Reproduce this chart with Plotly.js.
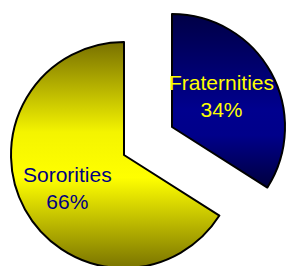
<!DOCTYPE html>
<html>
<head>
<meta charset="utf-8">
<script src="https://cdn.plot.ly/plotly-3.0.1.min.js"></script>
<style>
html,body{margin:0;padding:0;overflow:hidden;background:#fff;}
#chart{width:287px;height:270px;}
</style>
</head>
<body>
<div id="chart"></div>
<script>
const labels = ['Fraternities', 'Sororities'];
const values = [34, 66];
const sliceColors = ['#000080', '#e6e600'];
const textColors = ['#ffff00', '#000080'];
const gradients = [
  [[0, '#000046'], [0.55, '#00008e'], [0.7, '#00008a'], [1, '#00003e']],
  [[0, '#787000'], [0.4, '#f4f400'], [0.6, '#ffff00'], [1, '#7a7400']]
];
// pie placement (domains) for each slice's own trace
const domains = [
  {x: [0.2056, 0.9930], y: [0.1111, 0.9481]},
  {x: [0.0383, 0.8258], y: [0.0074, 0.8444]}
];
// label anchor positions (paper fractions)
const labelPos = [
  {x: 0.7735, y: 0.646},
  {x: 0.2369, y: 0.305}
];

const total = values.reduce((a, b) => a + b, 0);

const traces = labels.map((_, k) => ({
  type: 'pie',
  labels: labels,
  values: values,
  sort: false,
  direction: 'clockwise',
  rotation: 0,
  domain: domains[k],
  marker: {
    colors: labels.map((_, i) => i === k ? sliceColors[i] : 'rgba(0,0,0,0)'),
    line: {color: '#000', width: labels.map((_, i) => i === k ? 2 : 0)}
  },
  textinfo: 'none',
  hoverinfo: 'none',
  showlegend: false
}));

const annotations = labels.map((lab, i) => ({
  xref: 'paper', yref: 'paper',
  x: labelPos[i].x, y: labelPos[i].y,
  xanchor: 'center', yanchor: 'middle',
  showarrow: false,
  text: lab + '<br>' + Math.round(values[i] / total * 100) + '%',
  font: {family: 'Arial, Liberation Sans, sans-serif', size: 21, color: textColors[i]}
}));

Plotly.newPlot('chart', traces, {
  width: 287, height: 270,
  margin: {l: 0, r: 0, t: 0, b: 0},
  paper_bgcolor: '#fff',
  showlegend: false,
  annotations: annotations
}, {staticPlot: true}).then(gd => {
  const svgNS = 'http://www.w3.org/2000/svg';
  const svg = gd.querySelector('svg.main-svg');
  let defs = svg.querySelector('defs');
  if (!defs) { defs = document.createElementNS(svgNS, 'defs'); svg.insertBefore(defs, svg.firstChild); }
  gradients.forEach((stops, i) => {
    const lg = document.createElementNS(svgNS, 'linearGradient');
    lg.setAttribute('id', 'grad' + i);
    lg.setAttribute('x1', '0'); lg.setAttribute('y1', '0');
    lg.setAttribute('x2', '0'); lg.setAttribute('y2', '1');
    stops.forEach(([o, c]) => {
      const s = document.createElementNS(svgNS, 'stop');
      s.setAttribute('offset', o); s.setAttribute('stop-color', c);
      lg.appendChild(s);
    });
    defs.appendChild(lg);
  });
  gd.querySelectorAll('.trace').forEach((tr, k) => {
    const paths = tr.querySelectorAll('.slice path.surface');
    if (paths[k]) paths[k].style.fill = 'url(#grad' + k + ')';
  });
});
</script>
</body>
</html>
